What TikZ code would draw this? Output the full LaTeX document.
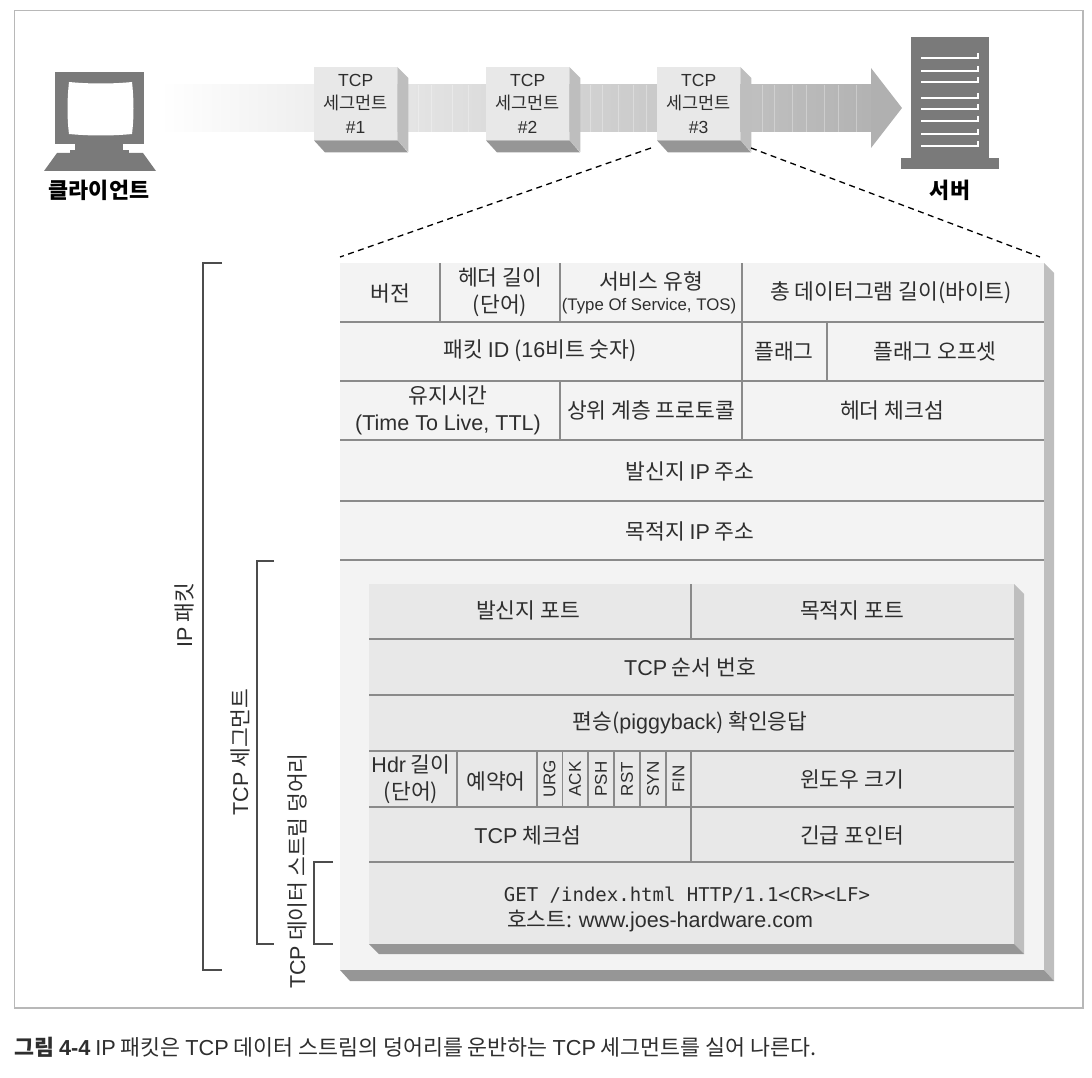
\documentclass[tikz,border=0pt]{standalone}
\usepackage{fontspec}
\usetikzlibrary{positioning, calc}
\setmainfont{Noto Sans CJK KR}
\setmonofont{DejaVu Sans Mono}
\newfontfamily\latfont{Liberation Sans}
\newcommand{\lat}[1]{{\latfont #1}}
\definecolor{framegray}{HTML}{B8B8B8}
\definecolor{iconblock}{HTML}{7A7A7A}
\definecolor{sidegray}{HTML}{BEBEBE}
\definecolor{basegray}{HTML}{969696}
\definecolor{rulegray}{HTML}{8A8A8A}
\definecolor{outerface}{HTML}{F3F3F3}
\definecolor{innerface}{HTML}{E8E8E8}
\definecolor{labeltext}{HTML}{2E2E2E}
\tikzset{
    field/.style={font=\fontsize{21.5}{27}\selectfont, text=labeltext, align=center, inner sep=0pt},
    smallfield/.style={font=\fontsize{16.8}{18}\selectfont, text=labeltext, align=center, inner sep=0pt},
    flagfield/.style={font=\fontsize{17}{18}\selectfont, text=labeltext, rotate=90, inner sep=0pt},
    segbox/.style={fill=innerface, minimum width=83pt, minimum height=73pt, inner sep=0pt, anchor=north west,
        font=\fontsize{17.5}{23.5}\selectfont, text=labeltext, align=center},
    hostlabel/.style={font=\fontsize{21.8}{24}\selectfont\bfseries, text=black, inner sep=0pt},
    sidelabel/.style={font=\fontsize{21.5}{22}\selectfont, text=labeltext, rotate=90, inner sep=0pt},
    rowline/.style={draw=rulegray, line width=2.4pt},
    bracket/.style={draw=black!70, line width=1.6pt},
}
\begin{document}
\begin{tikzpicture}[x=1pt, y=-1pt]
    \useasboundingbox (0, 0) rectangle (1092, 1078);
    \draw[framegray, line width=1.3pt] (14.5, 10.5) rectangle (1083, 1008);
    % flow band
    \shade[left color=white, right color=black!30, shading angle=90, draw=none] (160, 85) rectangle (871, 132);
    \foreach \xpos in {400, 418, 431, 452, 468, 590, 602, 618, 633, 646, 762, 774, 792, 806, 824, 838, 856} {
        \fill[white, opacity=0.3] (\xpos, 85) rectangle (\xpos + 1, 132);
    }
    \fill[black!31] (871, 68) -- (902, 108) -- (871, 148) -- cycle;
    % client
    \fill[iconblock] (55, 72) rectangle (144, 144);
    \fill[iconblock] (75, 144) rectangle (123, 150);
    \fill[iconblock] (70, 150) rectangle (129, 153);
    \fill[iconblock] (57, 153) -- (143, 153) -- (156, 171) -- (44, 171) -- cycle;
    \fill[white] (69, 82) .. controls (90, 84) and (112, 84) .. (132, 82)
        .. controls (134, 100) and (134, 118) .. (132, 134)
        .. controls (112, 136) and (90, 136) .. (69, 134)
        .. controls (67, 118) and (67, 100) .. (69, 82) -- cycle;
    \node[hostlabel] (client) at (99, 190) {클라이언트};
    % server
    \fill[iconblock] (911, 37) rectangle (989, 158);
    \fill[iconblock] (901, 158) rectangle (999, 169);
    \foreach \y in {58, 71, 82, 98, 109, 121, 134, 146} {
        \draw[white, line width=1.8pt] (921, \y) -- (978, \y) -- (978, \y - 5);
    }
    \node[hostlabel] (server) at (950, 190) {서버};
    % segments
    \foreach \i/\xpos in {1/314, 2/486, 3/657} {
        \node[segbox] (seg\i) at (\xpos, 67) {\lat{TCP}\\세그먼트\\\lat{\#\i}};
        \fill[sidegray] (seg\i.north east) -- ++(11, 11) -- ++(0, 74) -- (seg\i.south east) -- cycle;
        \fill[basegray] (seg\i.south west) -- ++(11, 12) -- ++(83, 0) -- (seg\i.south east) -- cycle;
    }
    % zoom lines
    \coordinate (zoomL) at (651, 148);
    \coordinate (zoomR) at (751, 148);
    \coordinate (pktL) at (340, 257);
    \coordinate (pktR) at (1040, 257);
    \draw[black, line width=1.3pt, dash pattern=on 6pt off 4.5pt] (zoomL) -- (pktL);
    \draw[black, line width=1.3pt, dash pattern=on 6pt off 4.5pt] (zoomR) -- (pktR);
    % ip packet
    \fill[outerface] (340, 263) rectangle (1044, 970);
    \fill[sidegray] (1044, 263) -- (1054, 273) -- (1054, 981) -- (1044, 970) -- cycle;
    \fill[basegray] (340, 970) -- (350, 981) -- (1054, 981) -- (1044, 970) -- cycle;
    \foreach \y in {322, 381, 440, 501, 560} {
        \draw[rowline] (340, \y) -- (1044, \y);
    }
    \foreach \xpos in {440, 560, 742} {
        \draw[rowline] (\xpos, 263) -- (\xpos, 322);
    }
    \draw[rowline] (742, 322) -- (742, 381);
    \draw[rowline] (827, 322) -- (827, 381);
    \draw[rowline] (560, 381) -- (560, 440);
    \draw[rowline] (742, 381) -- (742, 440);
    % tcp segment
    \fill[innerface] (369, 584) rectangle (1014, 944);
    \fill[sidegray] (1014, 584) -- (1024, 594) -- (1024, 954) -- (1014, 944) -- cycle;
    \fill[basegray] (369, 944) -- (379, 954) -- (1024, 954) -- (1014, 944) -- cycle;
    \foreach \y in {639, 695, 751, 807, 862} {
        \draw[rowline] (369, \y) -- (1014, \y);
    }
    \draw[rowline] (691, 584) -- (691, 639);
    \foreach \xpos in {457, 537, 562.5, 588, 614, 640, 666, 691} {
        \draw[rowline, line width=1.8pt] (\xpos, 751) -- (\xpos, 807);
    }
    \draw[rowline] (691, 807) -- (691, 862);
    % ip fields
    \node[field] (ver) at (390, 293) {버전};
    \node[field] (hlen) at (500, 292) {헤더 길이\\(단어)};
    \node[field] (tos) at (651, 281) {서비스 유형};
    \node[smallfield] (tosen) at (649, 306) {\lat{(Type Of Service, TOS)}};
    \node[field] (dlen) at (891, 293) {총 데이터그램 길이(바이트)};
    \node[field] (pid) at (540, 351) {패킷 \lat{ID} (\lat{16}비트 숫자)};
    \node[field] (flg) at (784, 351) {플래그};
    \node[field] (foff) at (935, 351) {플래그 오프셋};
    \node[field] (ttl) at (448, 410) {유지시간\\\lat{(Time To Live, TTL)}};
    \node[field] (proto) at (651, 410) {상위 계층 프로토콜};
    \node[field] (hsum) at (892, 410) {헤더 체크섬};
    \node[field] (srcip) at (690, 471) {발신지 \lat{IP} 주소};
    \node[field] (dstip) at (690, 531) {목적지 \lat{IP} 주소};
    % tcp fields
    \node[field] (sport) at (528, 610) {발신지 포트};
    \node[field] (dport) at (852, 610) {목적지 포트};
    \node[field] (seqno) at (690, 667) {\lat{TCP} 순서 번호};
    \node[field] (ackno) at (690, 723) {편승(\lat{piggyback}) 확인응답};
    \node[field] (thl) at (411, 779) {\lat{Hdr} 길이\\(단어)};
    \node[field] (resv) at (496, 781) {예약어};
    \foreach \flag/\xpos in {URG/549.5, ACK/575, PSH/601, RST/627, SYN/653, FIN/678.5} {
        \node[flagfield] (\flag) at (\xpos, 779) {\lat{\flag}};
    }
    \node[field] (wsize) at (852, 779) {윈도우 크기};
    \node[field] (tsum) at (528, 835) {\lat{TCP} 체크섬};
    \node[field] (urgp) at (852, 835) {긴급 포인터};
    \node[field, font=\fontsize{19}{20}\ttfamily] (reqline) at (687, 895) {GET /index.html HTTP/1.1<CR><LF>};
    \node[field] (hosthdr) at (660, 921) {호스트: \lat{www.joes-hardware.com}};
    % brackets
    \coordinate (ipT) at (222, 263);
    \coordinate (ipB) at (222, 970);
    \coordinate (segT) at (274, 561);
    \coordinate (segB) at (274, 944);
    \coordinate (datT) at (333, 862);
    \coordinate (datB) at (333, 944);
    \draw[bracket] (ipT) -- (203, 263) -- (203, 970) -- (ipB);
    \draw[bracket] (segT) -- (257, 561) -- (257, 944) -- (segB);
    \draw[bracket] (datT) -- (314, 862) -- (314, 944) -- (datB);
    \node[sidelabel] (ipname) at (184, 615) {\lat{IP} 패킷};
    \node[sidelabel] (segname) at (240, 752) {\lat{TCP} 세그먼트};
    \node[sidelabel] (datname) at (297, 871) {\lat{TCP} 데이터 스트림 덩어리};
    % caption
    \node[anchor=west, inner sep=0pt, text=labeltext, font=\fontsize{21.7}{24}\selectfont] (caption) at (14, 1047)
        {\textbf{그림 \lat{4-4}} \lat{IP} 패킷은 \lat{TCP} 데이터 스트림의 덩어리를 운반하는 \lat{TCP} 세그먼트를 실어 나른다.};
\end{tikzpicture}
\end{document}
